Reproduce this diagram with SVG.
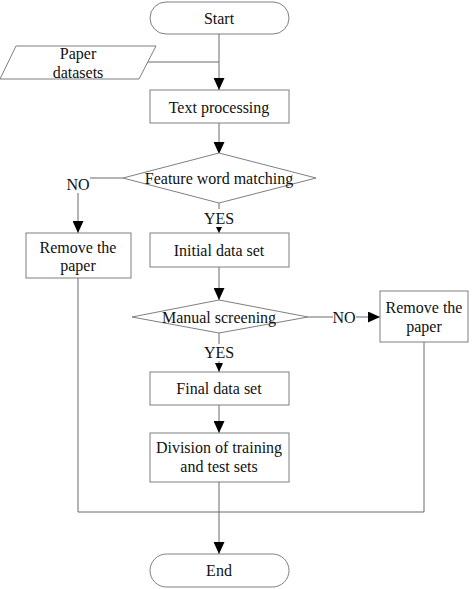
<svg xmlns="http://www.w3.org/2000/svg" width="474" height="589" viewBox="0 0 474 589">
<style>
.n{fill:#fff;stroke:#7f7f7f;stroke-width:1}
.c{fill:none;stroke:#6a6a6a;stroke-width:1}
text{font-family:'Liberation Serif','DejaVu Serif',serif;font-size:16px;fill:#111;text-anchor:middle;dominant-baseline:central}
</style>
<defs>
<marker id="a" markerWidth="12" markerHeight="11" refX="12" refY="5.5" orient="auto" markerUnits="userSpaceOnUse"><path d="M0,0L12,5.5L0,11Z" fill="#000"/></marker>
<marker id="s" markerWidth="6" markerHeight="6" refX="6" refY="3" orient="auto" markerUnits="userSpaceOnUse"><path d="M0,0L6,3L0,6Z" fill="#000"/></marker>
<marker id="m" markerWidth="9" markerHeight="8" refX="9" refY="4" orient="auto" markerUnits="userSpaceOnUse"><path d="M0,0L9,4L0,8Z" fill="#000"/></marker>
</defs>
<rect width="474" height="589" fill="#fff"/>
<g id="connectors" font-family="Liberation Serif, serif">
<path class="c" d="M219,34V90" marker-end="url(#a)"/>
<path class="c" d="M148,62H219"/>
<path class="c" d="M219,123V154" marker-end="url(#a)"/>
<path class="c" d="M123,178H90"/>
<path class="c" d="M78,193V233" marker-end="url(#a)"/>
<path class="c" d="M219,203V209"/>
<path class="c" d="M219,228V233" marker-end="url(#s)"/>
<path class="c" d="M219,267V300" marker-end="url(#a)"/>
<path class="c" d="M308,317H333"/>
<path class="c" d="M356,317H380" marker-end="url(#a)"/>
<path class="c" d="M219,333V344"/>
<path class="c" d="M219,361V372" marker-end="url(#m)"/>
<path class="c" d="M219,405V433" marker-end="url(#a)"/>
<path class="c" d="M219,482V554" marker-end="url(#a)"/>
<path class="c" d="M78,278V512H424V342"/>
<text x="78" y="184">NO</text>
<text x="219" y="218">YES</text>
<text x="344" y="317">NO</text>
<text x="219" y="352">YES</text>
</g>
<g id="start"><rect class="n" x="150" y="2" width="139" height="32" rx="16"/><text x="219" y="18">Start</text></g>
<g id="paper-datasets"><path class="n" d="M16,46H156L139,79H0Z"/><text x="78" y="53">Paper</text><text x="78" y="72">datasets</text></g>
<g id="text-processing"><rect class="n" x="150" y="90" width="139" height="33"/><text x="219" y="107">Text processing</text></g>
<g id="feature-word-matching"><path class="n" d="M219,153L316,178L219,203L123,178Z"/><text x="219" y="178">Feature word matching</text></g>
<g id="remove-left"><rect class="n" x="26" y="233" width="105" height="45"/><text x="78" y="247">Remove the</text><text x="78" y="265">paper</text></g>
<g id="initial-data-set"><rect class="n" x="150" y="233" width="139" height="34"/><text x="219" y="250">Initial data set</text></g>
<g id="manual-screening"><path class="n" d="M219,300L308,317L219,333L132,317Z"/><text x="219" y="317">Manual screening</text></g>
<g id="remove-right"><rect class="n" x="380" y="291" width="88" height="51"/><text x="424" y="307">Remove the</text><text x="424" y="326">paper</text></g>
<g id="final-data-set"><rect class="n" x="150" y="372" width="139" height="33"/><text x="219" y="388">Final data set</text></g>
<g id="division"><rect class="n" x="150" y="433" width="139" height="49"/><text x="219" y="447">Division of training</text><text x="219" y="466">and test sets</text></g>
<g id="end"><rect class="n" x="150" y="554" width="139" height="33" rx="16.5"/><text x="219" y="570">End</text></g>
</svg>
